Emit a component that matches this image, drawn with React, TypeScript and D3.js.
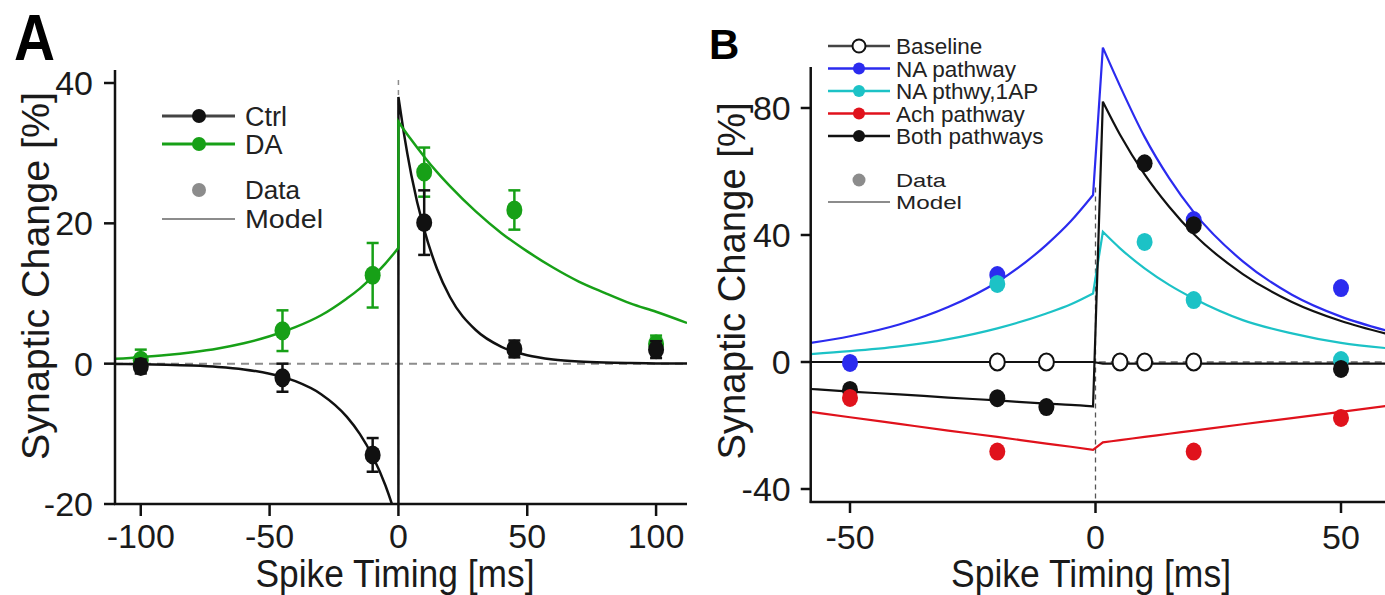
import React from "react";
import * as d3 from "d3";

// ---- Panel A: Ctrl vs DA ----
const timingA = [-100, -45, -10, 10, 45, 100];
const ctrlMean = [-0.4, -2.0, -13.0, 20.1, 2.1, 2.0];
const ctrlErr = [1.0, 2.0, 2.4, 4.6, 1.2, 1.2];
const daMean = [0.5, 4.7, 12.6, 27.3, 21.9, 2.8];
const daErr = [1.5, 2.9, 4.6, 3.5, 2.8, 1.2];

// model curves (pre / post branch)
const modelTA_pre = [-110, -100, -90, -80, -70, -60, -50, -40, -30, -20, -15, -10, -5, -2, 0];
const modelTA_post = [0, 2, 5, 10, 15, 20, 30, 40, 50, 60, 70, 80, 90, 100, 112];
const ctrlModelPre = [-0.05, -0.09, -0.15, -0.27, -0.47, -0.82, -1.43, -2.5, -4.35, -7.58, -10.0, -13.2, -17.4, -20.6, -23.0];
const ctrlModelPost = [38, 33.1, 26.9, 19.1, 13.5, 9.5, 4.8, 2.4, 1.2, 0.6, 0.3, 0.15, 0.08, 0.04, 0.02];
const daModelPre = [0.69, 0.92, 1.22, 1.63, 2.17, 2.91, 3.9, 5.2, 6.9, 9.3, 10.7, 12.4, 14.3, 15.6, 16.5];
const daModelPost = [34.5, 33.4, 31.9, 29.5, 27.3, 25.3, 21.7, 18.6, 16.0, 13.7, 11.7, 10.1, 8.6, 7.4, 5.8];

const ticksXA = [-100, -50, 0, 50, 100];
const ticksYA = [-20, 0, 20, 40];

// ---- Panel B: pathways ----
const baseT = [-20, -10, 5, 10, 20];
const baseV = [0, 0, 0, 0, 0];
const naT = [-50, -20, 20, 50];
const naV = [-0.3, 27.4, 44.7, 23.3];
const na1T = [-20, 10, 20, 50];
const na1V = [24.6, 37.8, 19.5, 0.6];
const achT = [-50, -20, 20, 50];
const achV = [-11.3, -28.2, -28.2, -17.6];
const bothT = [-50, -20, -10, 10, 20, 50];
const bothV = [-8.8, -11.4, -14.2, 62.6, 43.1, -2.2];

const modelTB_pre = [-58, -50, -40, -30, -20, -10, -5, -0.5];
const modelTB_post = [1.5, 5, 10, 15, 20, 30, 40, 50, 59];
const baseModelPre = [0, 0, 0, 0, 0, 0, 0, 0];
const baseModelPost = [-0.5, -0.5, -0.5, -0.5, -0.5, -0.5, -0.5, -0.5, -0.5];
const naModelPre = [6.0, 8.1, 11.8, 17.3, 25.2, 36.9, 44.4, 52.6];
const naModelPost = [99, 86.9, 70.9, 57.9, 47.2, 31.7, 21.2, 14.3, 10.0];
const na1ModelPre = [2.5, 3.4, 4.9, 7.2, 10.6, 15.3, 18.2, 21.6];
const na1ModelPost = [41, 35.8, 29.5, 24.3, 20.0, 13.2, 9.0, 6.0, 4.4];
const achModelPre = [-15.7, -17.4, -19.5, -21.6, -23.6, -25.7, -26.7, -27.7];
const achModelPost = [-25.3, -24.6, -23.6, -22.6, -21.6, -19.6, -17.7, -15.7, -13.9];
const bothModelPre = [-8.5, -9.3, -10.2, -11.2, -12.1, -13.1, -13.5, -14.0];
const bothModelPost = [82, 71.6, 59.1, 48.9, 40.3, 27.7, 18.9, 12.9, 9.0];

const ticksXB = [-50, 0, 50];
const ticksYB = [-40, 0, 40, 80];

const legendA = ["Ctrl", "DA"];
const legendB = ["Baseline", "NA pathway", "NA pthwy,1AP", "Ach pathway", "Both pathways"];

const BLACK = "#111";
const GREEN = "#17a017";
const BLUE = "#2b2bef";
const CYAN = "#1cc2c6";
const RED = "#e0121c";
const GREY = "#8c8c8c";
const FONT = "'Liberation Sans', Arial, Helvetica, sans-serif";

function branchPath(x, y, tPre, vPre, tPost, vPost) {
    const line = d3
        .line()
        .x((d) => x(d[0]))
        .y((d) => y(d[1]))
        .curve(d3.curveMonotoneX);
    const a = line(tPre.map((t, i) => [t, vPre[i]]));
    const b = line(tPost.map((t, i) => [t, vPost[i]]));
    return a + b.replace(/^M/, "L");
}

function ErrDot({ x, y, t, v, e, color }) {
    return (
        <g>
            <line x1={x(t)} x2={x(t)} y1={y(v - e)} y2={y(v + e)} stroke={color} strokeWidth={2.5} />
            <line x1={x(t) - 6} x2={x(t) + 6} y1={y(v - e)} y2={y(v - e)} stroke={color} strokeWidth={2.5} />
            <line x1={x(t) - 6} x2={x(t) + 6} y1={y(v + e)} y2={y(v + e)} stroke={color} strokeWidth={2.5} />
            <ellipse cx={x(t)} cy={y(v)} rx={8} ry={9.5} fill={color} />
        </g>
    );
}

function PanelA() {
    const x = d3.scaleLinear().domain([-110, 112]).range([115, 687]);
    const y = d3.scaleLinear().domain([-20, 40]).range([504, 83]);
    const top = 70;
    const ctrlPath = branchPath(x, y, modelTA_pre, ctrlModelPre, modelTA_post, ctrlModelPost);
    const daPath = branchPath(x, y, modelTA_pre, daModelPre, modelTA_post, daModelPost);
    const legendColors = [BLACK, GREEN];

    return (
        <g>
            <defs>
                <clipPath id="clipA">
                    <rect x={x(-110)} y={top} width={x(112) - x(-110)} height={y(-20) - top} />
                </clipPath>
            </defs>
            <text x={14} y={60} fontSize={64} fontWeight="bold" textLength={41} lengthAdjust="spacingAndGlyphs">A</text>

            <line x1={x(-110)} x2={x(112)} y1={y(0)} y2={y(0)} stroke={GREY} strokeWidth={2} strokeDasharray="8,6" />
            <line x1={x(0)} x2={x(0)} y1={top + 10} y2={y(-20)} stroke={GREY} strokeWidth={1.5} strokeDasharray="5,5" />

            <g clipPath="url(#clipA)">
                <path d={ctrlPath} fill="none" stroke={BLACK} strokeWidth={2.5} />
                <path d={daPath} fill="none" stroke={GREEN} strokeWidth={2.5} />
            </g>

            {timingA.map((t, i) => (
                <ErrDot key={"da" + t} x={x} y={y} t={t} v={daMean[i]} e={daErr[i]} color={GREEN} />
            ))}
            {timingA.map((t, i) => (
                <ErrDot key={"c" + t} x={x} y={y} t={t} v={ctrlMean[i]} e={ctrlErr[i]} color={BLACK} />
            ))}

            {/* axes */}
            <line x1={x(-110)} x2={x(-110)} y1={top} y2={y(-20) + 1} stroke={BLACK} strokeWidth={2.5} />
            <line x1={x(-110) - 1} x2={x(112)} y1={y(-20)} y2={y(-20)} stroke={BLACK} strokeWidth={2.5} />
            {ticksYA.map((v) => (
                <g key={"ya" + v}>
                    <line x1={x(-110) - 11} x2={x(-110)} y1={y(v)} y2={y(v)} stroke={BLACK} strokeWidth={2.5} />
                    <text x={x(-110) - 22} y={y(v) + 12} fontSize={34} textAnchor="end" fill="#1a1a1a">{v}</text>
                </g>
            ))}
            {ticksXA.map((t) => (
                <g key={"xa" + t}>
                    <line x1={x(t)} x2={x(t)} y1={y(-20)} y2={y(-20) + 12} stroke={BLACK} strokeWidth={2.5} />
                    <text x={x(t)} y={548} fontSize={34} textAnchor="middle" fill="#1a1a1a">{t}</text>
                </g>
            ))}
            <text x={395} y={587} fontSize={38} textAnchor="middle" fill="#1a1a1a" textLength={279} lengthAdjust="spacingAndGlyphs">Spike Timing [ms]</text>
            <text transform="translate(49,276) rotate(-90)" fontSize={39} textAnchor="middle" fill="#1a1a1a" textLength={368} lengthAdjust="spacingAndGlyphs">Synaptic Change [%]</text>

            {/* legend */}
            {legendA.map((name, i) => (
                <g key={name} transform={`translate(0,${116 + i * 28})`}>
                    <line x1={162} x2={235} y1={0} y2={0} stroke={i === 0 ? "#444" : GREEN} strokeWidth={3} />
                    <circle cx={199} cy={0} r={7} fill={legendColors[i]} />
                    <text x={245} y={10} fontSize={27} fill="#222">{name}</text>
                </g>
            ))}
            <circle cx={199} cy={190} r={7} fill={GREY} />
            <text x={245} y={199} fontSize={25} fill="#222" textLength={55} lengthAdjust="spacingAndGlyphs">Data</text>
            <line x1={162} x2={235} y1={219} y2={219} stroke={GREY} strokeWidth={2} />
            <text x={245} y={228} fontSize={25} fill="#222" textLength={78} lengthAdjust="spacingAndGlyphs">Model</text>
        </g>
    );
}

function PanelB() {
    const x = d3.scaleLinear().domain([-50, 50]).range([850, 1341]);
    const y = d3.scaleLinear().domain([-40, 80]).range([489, 108]);
    const left = x(-58);
    const right = x(59);
    const top = 67;
    const bottom = 502;
    const models = [
        [achModelPre, achModelPost, RED],
        [na1ModelPre, na1ModelPost, CYAN],
        [naModelPre, naModelPost, BLUE],
        [bothModelPre, bothModelPost, BLACK],
        [baseModelPre, baseModelPost, BLACK],
    ];
    const points = [
        [naT, naV, BLUE],
        [na1T, na1V, CYAN],
        [bothT, bothV, BLACK],
        [achT, achV, RED],
    ];
    const legendColors = ["#444", BLUE, CYAN, RED, BLACK];

    return (
        <g>
            <defs>
                <clipPath id="clipB">
                    <rect x={left} y={0} width={right - left} height={bottom} />
                </clipPath>
            </defs>
            <text x={709} y={59} fontSize={42} fontWeight="bold">B</text>

            <line x1={left} x2={right} y1={y(0)} y2={y(0)} stroke={GREY} strokeWidth={2} strokeDasharray="7,5" />
            <line x1={x(0)} x2={x(0)} y1={y(55)} y2={bottom} stroke="#555" strokeWidth={1.3} strokeDasharray="5,4" />

            <g clipPath="url(#clipB)">
                {models.map(([pre, post, c], i) => (
                    <path key={"m" + i} d={branchPath(x, y, modelTB_pre, pre, modelTB_post, post)} fill="none" stroke={c} strokeWidth={2.2} />
                ))}
            </g>

            {points.map(([ts, vs, c], i) => (
                <g key={"p" + i}>
                    {ts.map((t, j) => (
                        <ellipse key={t} cx={x(t)} cy={y(vs[j])} rx={8} ry={9} fill={c} />
                    ))}
                </g>
            ))}
            {baseT.map((t, j) => (
                <ellipse key={"b" + t} cx={x(t)} cy={y(baseV[j])} rx={7.5} ry={8.5} fill="#fff" stroke={BLACK} strokeWidth={2} />
            ))}

            {/* axes */}
            <line x1={left} x2={left} y1={top} y2={bottom + 1} stroke={BLACK} strokeWidth={2.5} />
            <line x1={left - 1} x2={right} y1={bottom} y2={bottom} stroke={BLACK} strokeWidth={2.5} />
            {ticksYB.map((v) => (
                <g key={"yb" + v}>
                    <line x1={left - 10} x2={left} y1={y(v)} y2={y(v)} stroke={BLACK} strokeWidth={2.5} />
                    <text x={left - 20} y={y(v) + 12} fontSize={34} textAnchor="end" fill="#1a1a1a">{v}</text>
                </g>
            ))}
            {ticksXB.map((t) => (
                <g key={"xb" + t}>
                    <line x1={x(t)} x2={x(t)} y1={bottom} y2={bottom + 11} stroke={BLACK} strokeWidth={2.5} />
                    <text x={x(t)} y={549} fontSize={34} textAnchor="middle" fill="#1a1a1a">{t}</text>
                </g>
            ))}
            <text x={1091} y={587} fontSize={38} textAnchor="middle" fill="#1a1a1a" textLength={280} lengthAdjust="spacingAndGlyphs">Spike Timing [ms]</text>
            <text transform="translate(745,281) rotate(-90)" fontSize={39} textAnchor="middle" fill="#1a1a1a" textLength={357} lengthAdjust="spacingAndGlyphs">Synaptic Change [%]</text>

            {/* legend */}
            {legendB.map((name, i) => (
                <g key={name} transform={`translate(0,${46 + i * 22.5})`}>
                    <line x1={828} x2={890} y1={0} y2={0} stroke={legendColors[i]} strokeWidth={2.5} />
                    {i === 0 ? (
                        <circle cx={859} cy={0} r={6.5} fill="#fff" stroke={BLACK} strokeWidth={2} />
                    ) : (
                        <circle cx={859} cy={0} r={6} fill={legendColors[i]} />
                    )}
                    <text x={896} y={8} fontSize={22.5} fill="#222">{name}</text>
                </g>
            ))}
            <circle cx={859} cy={180} r={6.5} fill={GREY} />
            <text x={896} y={187} fontSize={19} fill="#222" textLength={50} lengthAdjust="spacingAndGlyphs">Data</text>
            <line x1={828} x2={890} y1={202} y2={202} stroke={GREY} strokeWidth={2} />
            <text x={896} y={209} fontSize={19} fill="#222" textLength={66} lengthAdjust="spacingAndGlyphs">Model</text>
        </g>
    );
}

export default function App() {
    return (
        <div>
            <style>{`body{margin:0;background:#fff}`}</style>
            <svg width={1385} height={595} style={{ display: "block", fontFamily: FONT }}>
                <rect width={1385} height={595} fill="#fff" />
                <PanelA />
                <PanelB />
            </svg>
        </div>
    );
}
